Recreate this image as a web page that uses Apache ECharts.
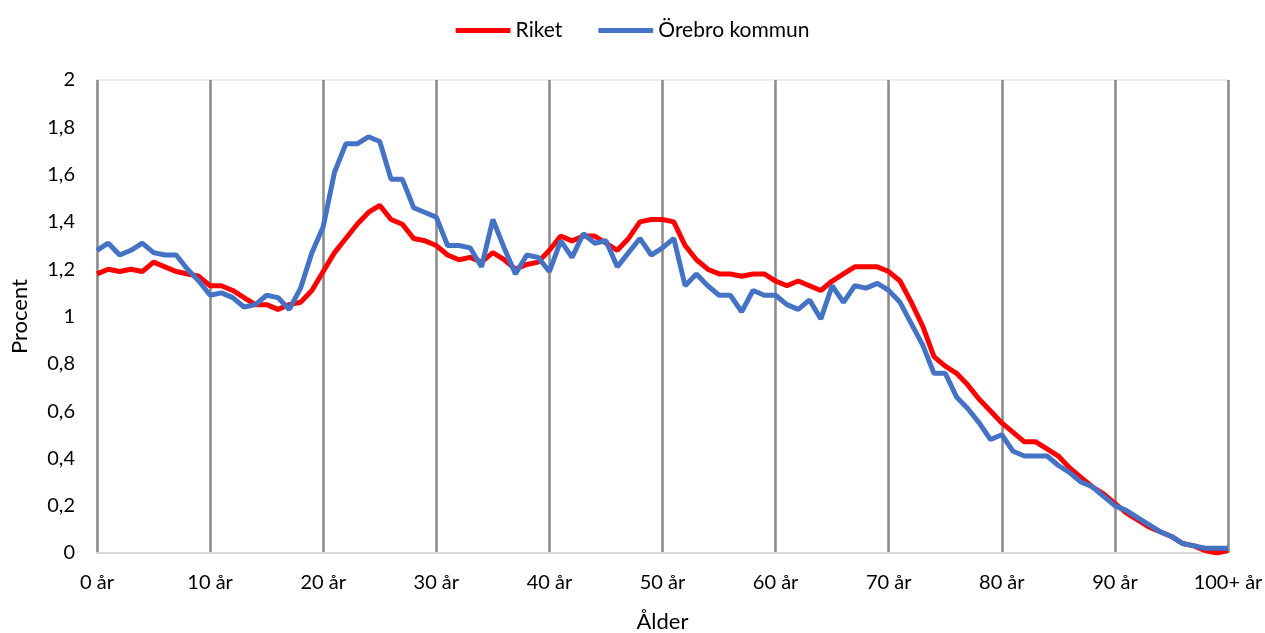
<!DOCTYPE html>
<html>
<head>
<meta charset="utf-8">
<script src="https://cdn.jsdelivr.net/npm/echarts@6/dist/echarts.min.js"></script>
<style>
html,body{margin:0;padding:0;background:#fff;}
#chart{width:1265px;height:633px;}
</style>
</head>
<body>
<div id="chart"></div>
<script>
// Categories: ages 0..99 år and "100+ år"
const ages = Array.from({length: 101}, (_, i) => i === 100 ? '100+ år' : i + ' år');

const riket = [
  1.18,1.20,1.19,1.20,1.19,1.23,1.21,1.19,1.18,1.17,
  1.13,1.13,1.11,1.08,1.05,1.05,1.03,1.05,1.06,1.11,
  1.19,1.27,1.33,1.39,1.44,1.47,1.41,1.39,1.33,1.32,
  1.30,1.26,1.24,1.25,1.23,1.27,1.24,1.20,1.22,1.23,
  1.28,1.34,1.32,1.34,1.34,1.31,1.28,1.33,1.40,1.41,
  1.41,1.40,1.30,1.24,1.20,1.18,1.18,1.17,1.18,1.18,
  1.15,1.13,1.15,1.13,1.11,1.15,1.18,1.21,1.21,1.21,
  1.19,1.15,1.06,0.96,0.83,0.79,0.76,0.71,0.65,0.60,
  0.55,0.51,0.47,0.47,0.44,0.41,0.36,0.32,0.28,0.25,
  0.21,0.17,0.14,0.11,0.09,0.07,0.04,0.03,0.01,0.00,0.01
];

const orebro = [
  1.28,1.31,1.26,1.28,1.31,1.27,1.26,1.26,1.20,1.15,
  1.09,1.10,1.08,1.04,1.05,1.09,1.08,1.03,1.12,1.27,
  1.38,1.61,1.73,1.73,1.76,1.74,1.58,1.58,1.46,1.44,
  1.42,1.30,1.30,1.29,1.21,1.41,1.29,1.18,1.26,1.25,
  1.19,1.32,1.25,1.35,1.31,1.32,1.21,1.27,1.33,1.26,
  1.29,1.33,1.13,1.18,1.13,1.09,1.09,1.02,1.11,1.09,
  1.09,1.05,1.03,1.07,0.99,1.13,1.06,1.13,1.12,1.14,
  1.11,1.06,0.97,0.88,0.76,0.76,0.66,0.61,0.55,0.48,
  0.50,0.43,0.41,0.41,0.41,0.37,0.34,0.30,0.28,0.24,
  0.20,0.18,0.15,0.12,0.09,0.07,0.04,0.03,0.02,0.02,0.02
];

const seriesNames = ['Riket', 'Örebro kommun'];
const FONT = 'Lato, "Open Sans", sans-serif';

const chart = echarts.init(document.getElementById('chart'), null, {renderer: 'canvas'});
chart.setOption({
  animation: false,
  backgroundColor: '#ffffff',
  legend: {
    top: 15,
    left: 'center',
    icon: 'roundRect',
    itemWidth: 55,
    itemHeight: 5,
    itemGap: 36,
    textStyle: {fontFamily: FONT, fontSize: 21, color: '#000'},
    data: seriesNames
  },
  grid: {
    left: 97, right: 37, top: 80, bottom: 80,
    outerBoundsMode: 'none',
    containLabel: false,
    show: true, borderColor: '#d9d9d9', borderWidth: 1, backgroundColor: 'transparent'
  },
  xAxis: {
    type: 'category',
    data: ages,
    boundaryGap: false,
    name: 'Ålder',
    nameLocation: 'middle',
    nameGap: 58,
    nameTextStyle: {fontFamily: FONT, fontSize: 22, color: '#000'},
    axisLine: {show: true, lineStyle: {color: '#d9d9d9', width: 2}},
    axisTick: {show: false},
    axisLabel: {interval: 9, fontFamily: FONT, fontSize: 20, color: '#000', margin: 20, showMaxLabel: true},
    splitLine: {show: true, interval: 9, lineStyle: {color: '#898989', width: 2.5}}
  },
  yAxis: {
    type: 'value',
    min: 0, max: 2, interval: 0.2,
    name: 'Procent',
    nameLocation: 'middle',
    nameGap: 66,
    nameRotate: 90,
    nameTextStyle: {fontFamily: FONT, fontSize: 22, color: '#000'},
    axisLine: {show: false},
    axisTick: {show: false},
    splitLine: {show: false},
    axisLabel: {
      fontFamily: FONT, fontSize: 20, color: '#000', margin: 22,
      formatter: v => String(Math.round(v * 10) / 10).replace('.', ',')
    }
  },
  series: [
    {name: seriesNames[0], type: 'line', data: riket, symbol: 'none', smooth: false,
     lineStyle: {color: '#ff0000', width: 5}, itemStyle: {color: '#ff0000'}},
    {name: seriesNames[1], type: 'line', data: orebro, symbol: 'none', smooth: false,
     lineStyle: {color: '#4472c4', width: 5}, itemStyle: {color: '#4472c4'}}
  ]
});
</script>
</body>
</html>
